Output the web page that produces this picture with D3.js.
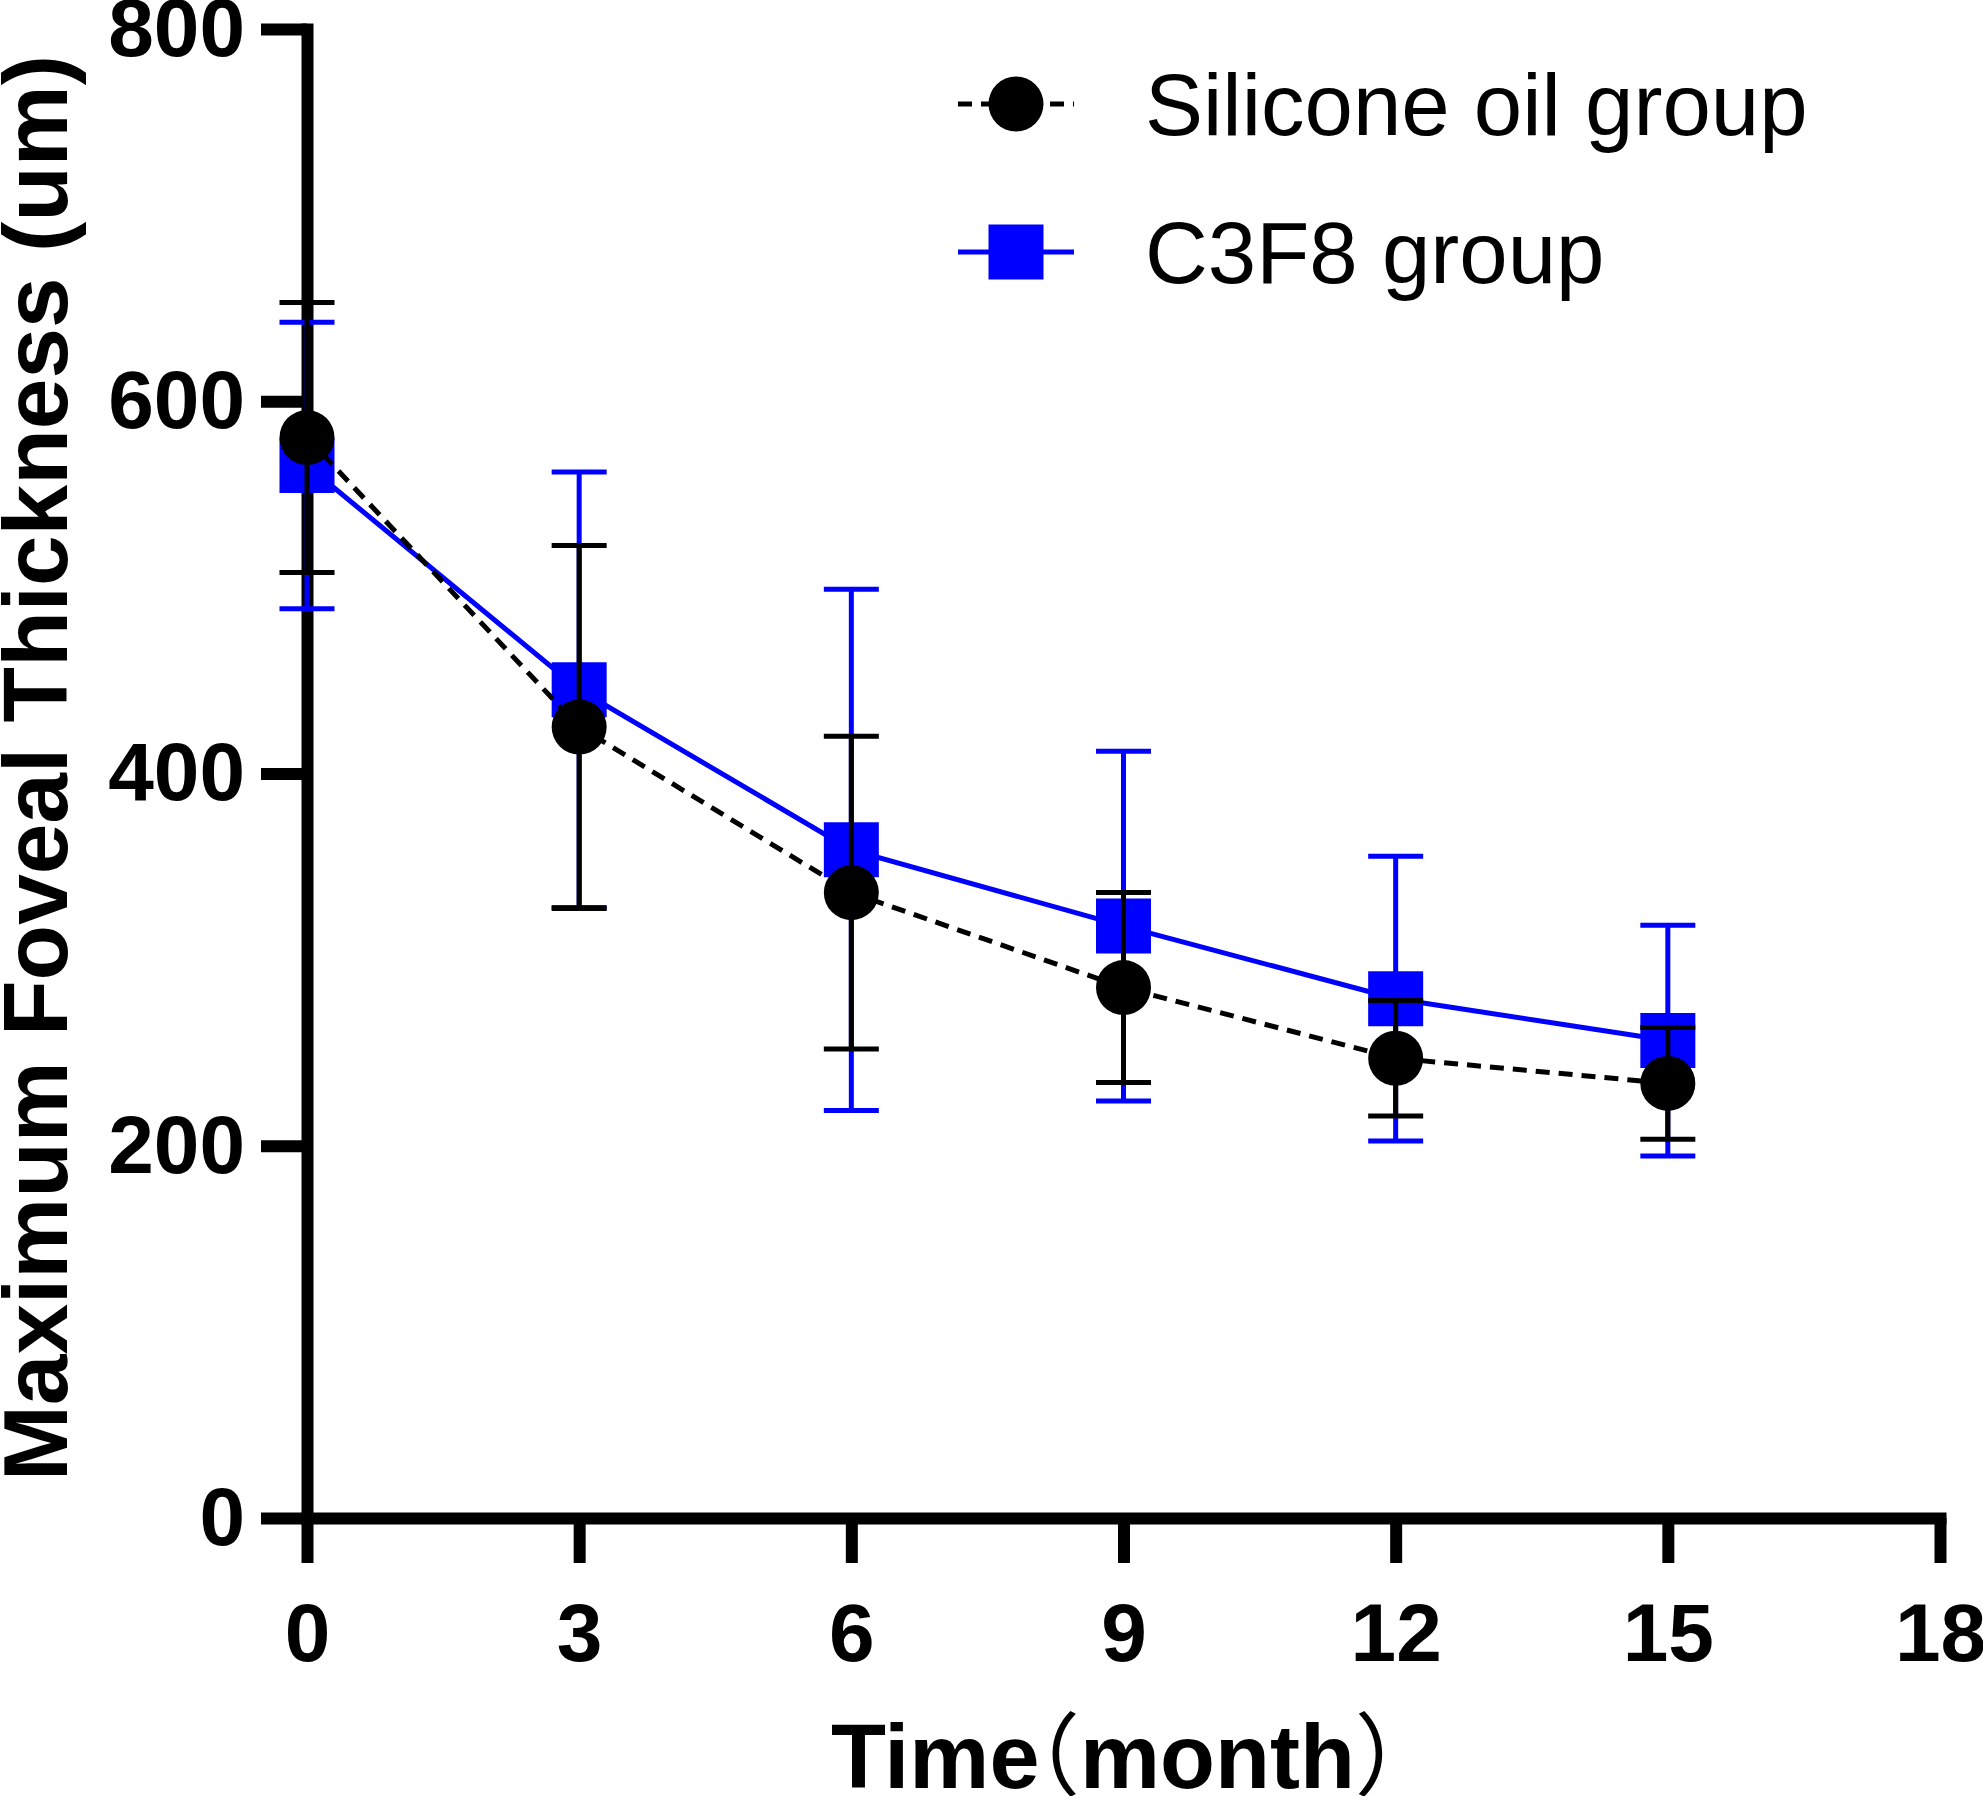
<!DOCTYPE html>
<html>
<head>
<meta charset="utf-8">
<script src="https://cdn.jsdelivr.net/npm/d3@7"></script>
<style>
  html, body { margin: 0; padding: 0; background: #fff; }
  svg { display: block; }
</style>
</head>
<body>
<svg id="chart" width="1983" height="1796"></svg>
<script>
// values (mean and SD, um)
var months = [0, 3, 6, 9, 12, 15];
var siliconeMean = [580.5, 425, 336, 285, 247, 233.5];
var siliconeSD = [72.5, 97.5, 84, 51, 31, 30];
var c3f8Mean = [565.5, 445, 359, 318, 279, 256.5];
var c3f8SD = [77, 117, 140, 94, 76.5, 62];
var xTicks = [0, 3, 6, 9, 12, 15, 18];
var yTicks = [0, 200, 400, 600, 800];
var seriesNames = ["Silicone oil group", "C3F8 group"];

var BLUE = "#0000ff";
var FONT = "'Liberation Sans', Arial, Helvetica, sans-serif";

var svg = d3.select("#chart");

var x = d3.scaleLinear().domain([0, 18]).range([307, 1940]);
var y = d3.scaleLinear().domain([0, 800]).range([1518, 29]);

// axes
var yAxis = d3.axisLeft(y).tickValues(yTicks).tickSize(46).tickSizeOuter(0).tickPadding(16);
var xAxis = d3.axisBottom(x).tickValues(xTicks).tickSize(45).tickSizeOuter(0).tickPadding(40);

var gy = svg.append("g").attr("transform", "translate(" + x(0) + ",0)").call(yAxis);
var gx = svg.append("g").attr("transform", "translate(0," + y(0) + ")").call(xAxis);

[gx, gy].forEach(function (g) {
    g.attr("font-family", null).attr("font-size", null);
    g.select(".domain").attr("stroke", "#000").attr("stroke-width", 12).attr("stroke-linecap", "square");
    g.selectAll(".tick line").attr("stroke", "#000").attr("stroke-width", 12);
    g.selectAll(".tick text")
        .attr("fill", "#000")
        .style("font-family", FONT)
        .style("font-weight", "bold")
        .style("font-size", "82px");
});

// axis titles
svg.append("text")
    .attr("transform", "translate(67," + 768 + ") rotate(-90)")
    .attr("text-anchor", "middle")
    .style("font-family", FONT)
    .style("font-weight", "bold")
    .style("font-size", "91px")
    .text("Maximum Foveal Thickness (um)");

var xt = svg.append("text")
    .attr("x", 831)
    .attr("y", 1788)
    .style("font-family", FONT)
    .style("font-weight", "bold")
    .style("font-size", "90px");
xt.append("tspan").text("Time");
xt.append("tspan").attr("dx", "-0.55em")
    .style("font-family", "'Noto Sans CJK SC', sans-serif").style("font-weight", "normal")
    .text("（");
xt.append("tspan").text("month");
xt.append("tspan")
    .style("font-family", "'Noto Sans CJK SC', sans-serif").style("font-weight", "normal")
    .text("）");

// one series: error bars, connecting line, markers
function drawSeries(means, sds, color, dashed, marker) {
    var g = svg.append("g");
    var pts = months.map(function (m, i) { return { t: m, v: means[i], sd: sds[i] }; });
    var capHalf = 27.5;

    var bars = g.selectAll(".bar").data(pts).enter().append("g")
        .attr("stroke", color).attr("stroke-width", 5);
    bars.append("line")
        .attr("x1", function (d) { return x(d.t); })
        .attr("x2", function (d) { return x(d.t); })
        .attr("y1", function (d) { return y(d.v + d.sd); })
        .attr("y2", function (d) { return y(d.v - d.sd); });
    bars.append("line")
        .attr("x1", function (d) { return x(d.t) - capHalf; })
        .attr("x2", function (d) { return x(d.t) + capHalf; })
        .attr("y1", function (d) { return y(d.v + d.sd); })
        .attr("y2", function (d) { return y(d.v + d.sd); });
    bars.append("line")
        .attr("x1", function (d) { return x(d.t) - capHalf; })
        .attr("x2", function (d) { return x(d.t) + capHalf; })
        .attr("y1", function (d) { return y(d.v - d.sd); })
        .attr("y2", function (d) { return y(d.v - d.sd); });

    var line = d3.line().x(function (d) { return x(d.t); }).y(function (d) { return y(d.v); });
    g.append("path")
        .datum(pts)
        .attr("d", line)
        .attr("fill", "none")
        .attr("stroke", color)
        .attr("stroke-width", 5)
        .attr("stroke-dasharray", dashed ? "14,9" : null);

    var sym = d3.symbol().type(marker === "circle" ? d3.symbolCircle : d3.symbolSquare)
        .size(marker === "circle" ? Math.PI * 27.5 * 27.5 : 55 * 55);
    g.selectAll(".pt").data(pts).enter().append("path")
        .attr("d", sym)
        .attr("transform", function (d) { return "translate(" + x(d.t) + "," + y(d.v) + ")"; })
        .attr("fill", color);
}

drawSeries(c3f8Mean, c3f8SD, BLUE, false, "square");
drawSeries(siliconeMean, siliconeSD, "#000", true, "circle");

// legend
var legend = [
    { name: seriesNames[0], color: "#000", dashed: true, marker: "circle", cy: 104, base: 135 },
    { name: seriesNames[1], color: BLUE, dashed: false, marker: "square", cy: 252, base: 283 }
];
legend.forEach(function (l) {
    var g = svg.append("g");
    g.append("line")
        .attr("x1", 958).attr("x2", 1074)
        .attr("y1", l.cy).attr("y2", l.cy)
        .attr("stroke", l.color).attr("stroke-width", 5)
        .attr("stroke-dasharray", l.dashed ? "14,9" : null);
    var sym = d3.symbol().type(l.marker === "circle" ? d3.symbolCircle : d3.symbolSquare)
        .size(l.marker === "circle" ? Math.PI * 27.5 * 27.5 : 55 * 55);
    g.append("path").attr("d", sym)
        .attr("transform", "translate(1016," + l.cy + ")")
        .attr("fill", l.color);
    g.append("text")
        .attr("x", 1145).attr("y", l.base)
        .style("font-family", FONT)
        .style("font-size", "87px")
        .text(l.name);
});
</script>
</body>
</html>
